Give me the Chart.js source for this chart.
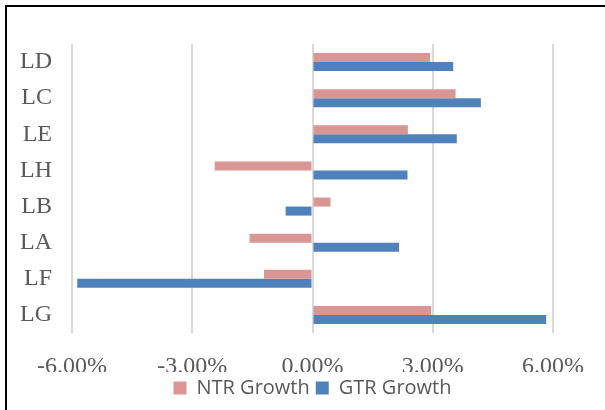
<!DOCTYPE html>
<html>
<head>
<meta charset="utf-8">
<script src="https://cdn.jsdelivr.net/npm/chart.js@4"></script>
<style>
  body { margin: 0; background: #fff; }
  #wrap { position: relative; width: 605px; height: 410px; overflow: hidden; }
  #frame { position: absolute; left: 5px; top: 5px; width: 700px; height: 600px;
           border-left: 2px solid #000; border-top: 2px solid #000; pointer-events: none; }
  canvas { position: absolute; left: 0; top: 0; }
</style>
</head>
<body>
<div id="wrap">
  <canvas id="chart" width="605" height="410"></canvas>
  <div id="frame"></div>
</div>
<script>
const categories = ["LD", "LC", "LE", "LH", "LB", "LA", "LF", "LG"];
const ntrGrowth = [2.93, 3.57, 2.38, -2.44, 0.45, -1.57, -1.21, 2.96];
const gtrGrowth = [3.51, 4.20, 3.60, 2.37, -0.67, 2.16, -5.87, 5.83];
const seriesNames = ["NTR Growth", "GTR Growth"];
const xMin = -6, xMax = 6, xStep = 3;

const serif = "'Liberation Serif', 'Times New Roman', serif";
const sans = "'Open Sans', 'Liberation Sans', sans-serif";

const ctx = document.getElementById("chart").getContext("2d");
new Chart(ctx, {
    type: 'bar',
    data: {
        labels: categories,
        datasets: [
            { label: seriesNames[0], data: ntrGrowth, backgroundColor: '#D99694', borderWidth: 0 },
            { label: seriesNames[1], data: gtrGrowth, backgroundColor: '#4F81BD', borderWidth: 0 }
        ]
    },
    options: {
        indexAxis: 'y',
        responsive: false,
        animation: false,
        categoryPercentage: 0.5,
        barPercentage: 1.0,
        layout: { padding: { top: 44, right: 52, left: 0, bottom: 2 } },
        plugins: {
            tooltip: { enabled: false },
            legend: {
                position: 'bottom',
                fullSize: false,
                labels: {
                    font: { family: sans, size: 20 },
                    color: '#595959',
                    boxWidth: 13, boxHeight: 13,
                    padding: 6
                }
            }
        },
        scales: {
            x: {
                min: xMin, max: xMax,
                ticks: {
                    stepSize: xStep,
                    font: { family: serif, size: 24 },
                    color: '#595959',
                    padding: 19,
                    callback: v => v.toFixed(2) + '%'
                },
                grid: { color: '#D9D9D9', lineWidth: 2, drawTicks: false },
                border: { display: false },
                afterFit: s => { s.height = 39; }
            },
            y: {
                ticks: {
                    font: { family: serif, size: 24 },
                    color: '#595959',
                    padding: 20
                },
                grid: { display: false, drawTicks: false },
                border: { display: false },
                afterFit: s => { s.width = 72; }
            }
        }
    }
});
</script>
</body>
</html>
